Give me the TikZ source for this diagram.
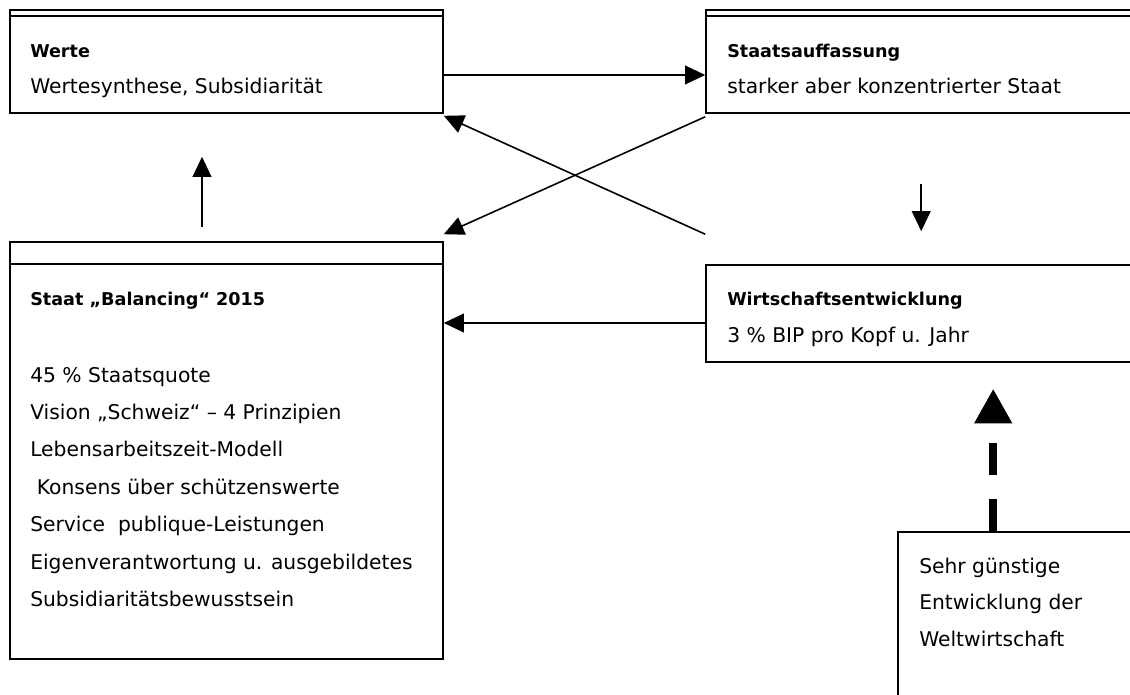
\documentclass[tikz,border=0pt]{standalone}
\usepackage{fontspec}
\setmainfont{DejaVu Sans}
\usetikzlibrary{arrows.meta,calc}
\tikzset{
  box/.style={draw, line width=1.2pt, inner sep=0pt},
  txt/.style={anchor=base west, inner sep=0pt, font=\fontsize{15.2}{18}\selectfont},
  head/.style={txt, font=\fontsize{13.2}{16}\selectfont\bfseries},
  link/.style={line width=1.2pt, -{Triangle[length=15pt,width=14pt]}},
}
\begin{document}
\begin{tikzpicture}[x=0.75pt,y=-0.75pt]
  \useasboundingbox (0,0) rectangle (1130,695);
  \clip (0,0) rectangle (1130,695);
  % boxes
  \node[box, minimum width=324.75pt, minimum height=77.25pt] (werte) at (226.5,61.5) {};
  \node[box, minimum width=329.25pt, minimum height=77.25pt] (staat) at (925.5,61.5) {};
  \node[box, minimum width=324.75pt, minimum height=312.75pt] (balancing) at (226.5,450.5) {};
  \node[box, minimum width=329.25pt, minimum height=72.75pt] (wirtschaft) at (925.5,313.5) {};
  \node[box, minimum width=185.25pt, minimum height=133.5pt] (welt) at (1021.5,621) {};
  % header lines
  \draw[line width=1.2pt] ($(werte.north west)+(0,7)$) -- ($(werte.north east)+(0,7)$);
  \draw[line width=1.2pt] ($(staat.north west)+(0,7)$) -- ($(staat.north east)+(0,7)$);
  \draw[line width=1.2pt] ($(balancing.north west)+(0,23)$) -- ($(balancing.north east)+(0,23)$);
  % texts
  \node[head] (werteTitel) at (30,58) {Werte};
  \node[txt] (werteText) at (30,94) {Wertesynthese, Subsidiarität};
  \node[head] (staatTitel) at (727,58) {Staatsauffassung};
  \node[txt] (staatText) at (727,94) {starker aber konzentrierter Staat};
  \node[head] (balancingTitel) at (30,305) {Staat „Balancing“ 2015};
  \foreach \zeile [count=\i] in {45 \% Staatsquote, Vision „Schweiz“ – 4 Prinzipien,
      Lebensarbeitszeit-Modell, \hspace{5pt}Konsens über schützenswerte,
      Service\ \ publique-Leistungen, Eigenverantwortung u. ausgebildetes,
      Subsidiaritätsbewusstsein}
    \node[txt] (liste\i) at (30,{382+(\i-1)*37.4}) {\zeile};
  \node[head] (wirtschaftTitel) at (727,305) {Wirtschaftsentwicklung};
  \node[txt] (wirtschaftText) at (727,342) {3 \% BIP pro Kopf u. Jahr};
  \node[txt] (welt1) at (919,573) {Sehr günstige};
  \node[txt] (welt2) at (919,609) {Entwicklung der};
  \node[txt] (welt3) at (919,646) {Weltwirtschaft};
  % arrows
  \draw[link] ($(werte.east)+(0,13.5)$) -- ($(staat.west)+(0,13.5)$);
  \draw[link] ($(staat.south west)+(0,3)$) -- ($(balancing.north east)+(0,-7)$);
  \draw[link] ($(wirtschaft.north west)+(0,-30)$) -- ($(werte.south east)+(0,2)$);
  \draw[link] ($(balancing.north)+(-24.5,-14)$) -- ($(werte.south)+(-24.5,43)$);
  \draw[link] ($(staat.south west)+(216,70)$) -- ($(wirtschaft.north west)+(216,-33)$);
  \draw[link] ($(wirtschaft.west)+(0,9.5)$) -- ($(balancing.east)+(0,-127.5)$);
  \draw[line width=6pt, dash pattern=on 24pt off 18pt, -{Triangle[length=26pt,width=27pt]}]
    ($(welt.north west)+(96,0)$) -- ($(wirtschaft.south west)+(288,26)$);
\end{tikzpicture}
\end{document}
